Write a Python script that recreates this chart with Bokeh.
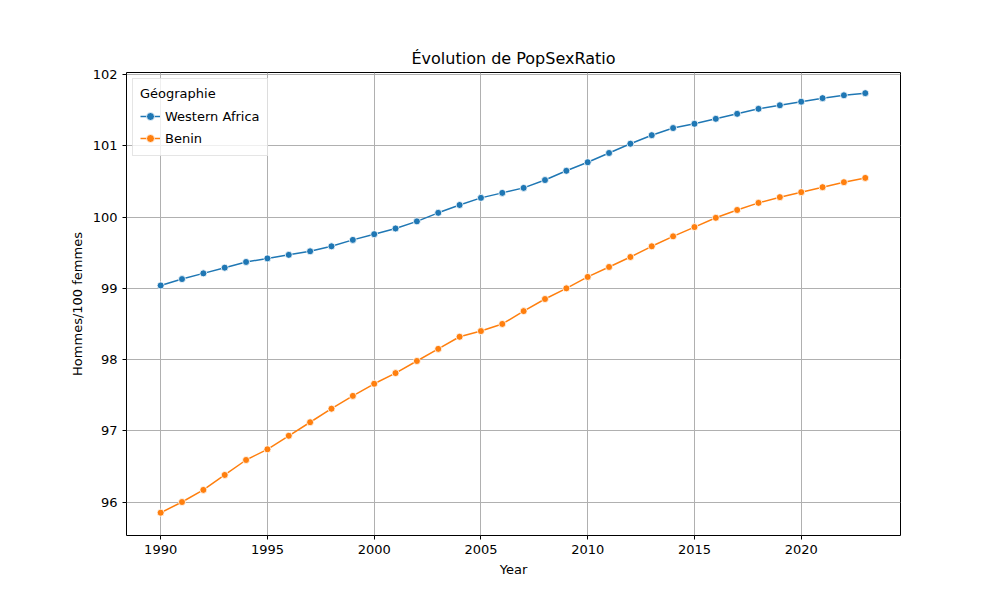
from bokeh.plotting import figure
from bokeh.models import Range1d, FixedTicker
from bokeh.embed import file_html
from bokeh.resources import INLINE

years = list(range(1990, 2024))
western_africa = [99.04, 99.13, 99.21, 99.29, 99.37, 99.42, 99.47, 99.52, 99.59, 99.68,
                  99.76, 99.84, 99.94, 100.06, 100.17, 100.27, 100.34, 100.41, 100.52, 100.65,
                  100.77, 100.90, 101.03, 101.15, 101.25, 101.31, 101.38, 101.45, 101.52, 101.57,
                  101.62, 101.67, 101.71, 101.74]
benin = [95.85, 96.00, 96.17, 96.38, 96.59, 96.74, 96.93, 97.12, 97.31, 97.49,
         97.66, 97.81, 97.98, 98.15, 98.32, 98.40, 98.50, 98.68, 98.85, 99.00,
         99.16, 99.30, 99.44, 99.59, 99.73, 99.86, 99.99, 100.10, 100.20, 100.28,
         100.35, 100.42, 100.49, 100.55]

FONT = "DejaVu Sans"

p = figure(width=984, height=584, output_backend="svg", toolbar_location=None,
           title="Évolution de PopSexRatio",
           x_range=Range1d(1988.4, 2024.65), y_range=Range1d(95.53, 102.03),
           min_border_left=126, min_border_right=84, min_border_top=72, min_border_bottom=49)
p.title.align = "center"
p.title.text_font = FONT
p.title.text_font_size = "16px"
p.title.text_font_style = "normal"
p.title.text_color = "black"
p.outline_line_color = "black"
p.xaxis.axis_label = "Year"
p.yaxis.axis_label = "Hommes/100 femmes"
p.xaxis.ticker = FixedTicker(ticks=[1990, 1995, 2000, 2005, 2010, 2015, 2020])
p.yaxis.ticker = FixedTicker(ticks=[96, 97, 98, 99, 100, 101, 102])
for ax in (p.xaxis[0], p.yaxis[0]):
    ax.axis_label_text_font = FONT
    ax.axis_label_text_font_size = "13px"
    ax.axis_label_text_font_style = "normal"
    ax.axis_label_text_color = "black"
    ax.major_label_text_font = FONT
    ax.major_label_text_font_size = "13px"
    ax.major_label_text_color = "black"
    ax.minor_tick_line_color = None
    ax.major_tick_in = 0
    ax.major_tick_out = 4
    ax.axis_line_color = None
p.grid.grid_line_color = "#b0b0b0"
p.grid.grid_line_alpha = 1.0

for data, color, name in [(western_africa, "#1f77b4", "Western Africa"), (benin, "#ff7f0e", "Benin")]:
    p.line(years, data, color=color, line_width=1.5, legend_label=name)
    p.scatter(years, data, color=color, line_color="white", line_width=0.8, size=7, legend_label=name)

p.legend.location = "top_left"
p.legend.title = "Géographie"
p.legend.title_text_font = FONT
p.legend.title_text_font_size = "13px"
p.legend.title_text_font_style = "normal"
p.legend.title_text_color = "black"
p.legend.label_text_font = FONT
p.legend.label_text_font_size = "13px"
p.legend.label_text_color = "black"
p.legend.border_line_color = "#cccccc"
p.legend.background_fill_alpha = 0.8
p.legend.spacing = 2
p.legend.padding = 7
p.legend.margin = 6

open("out.html", "w").write(file_html(p, INLINE))
